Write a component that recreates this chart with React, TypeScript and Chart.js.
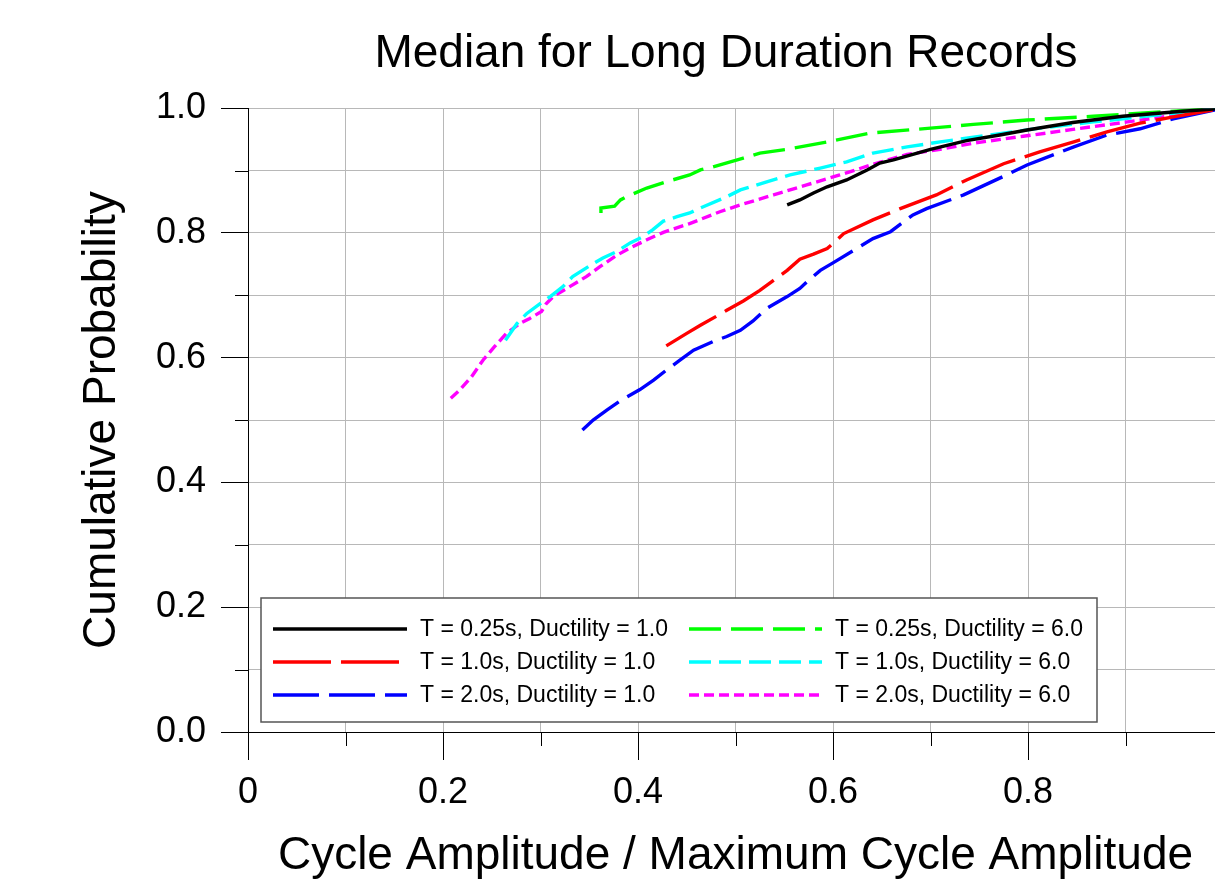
import { useEffect, useRef } from "react";
import { Chart, registerables } from "chart.js";

Chart.register(...registerables);

const FONT = '"Liberation Sans", Arial, Helvetica, sans-serif';

const chartTitle = "Median for Long Duration Records";
const xTitle = "Cycle Amplitude / Maximum Cycle Amplitude";
const yTitle = "Cumulative Probability";

const seriesLabels = [
  "T = 0.25s, Ductility = 1.0",
  "T = 1.0s, Ductility = 1.0",
  "T = 2.0s, Ductility = 1.0",
  "T = 0.25s, Ductility = 6.0",
  "T = 1.0s, Ductility = 6.0",
  "T = 2.0s, Ductility = 6.0",
];

const blackX = [0.553, 0.566, 0.58, 0.594, 0.614, 0.635, 0.648, 0.662, 0.7, 0.737, 0.771, 0.799, 0.846, 0.897, 0.949, 1.0];
const blackY = [0.845, 0.853, 0.864, 0.874, 0.885, 0.901, 0.912, 0.917, 0.934, 0.948, 0.957, 0.965, 0.977, 0.987, 0.994, 1.0];

const redX = [0.429, 0.45, 0.464, 0.481, 0.491, 0.508, 0.525, 0.539, 0.553, 0.566, 0.58, 0.594, 0.6, 0.611, 0.641, 0.669, 0.706, 0.737, 0.775, 0.812, 0.847, 0.881, 0.915, 0.949, 1.0];
const redY = [0.619, 0.639, 0.652, 0.667, 0.676, 0.691, 0.708, 0.724, 0.74, 0.758, 0.766, 0.775, 0.783, 0.799, 0.821, 0.839, 0.861, 0.885, 0.911, 0.93, 0.946, 0.962, 0.976, 0.986, 1.0];

const blueX = [0.343, 0.354, 0.368, 0.382, 0.402, 0.416, 0.429, 0.443, 0.457, 0.477, 0.491, 0.505, 0.518, 0.532, 0.553, 0.566, 0.575, 0.587, 0.6, 0.621, 0.641, 0.659, 0.682, 0.696, 0.734, 0.778, 0.799, 0.847, 0.881, 0.915, 0.949, 1.0];
const blueY = [0.484, 0.5, 0.516, 0.531, 0.549, 0.564, 0.58, 0.596, 0.612, 0.626, 0.634, 0.644, 0.659, 0.679, 0.698, 0.711, 0.724, 0.74, 0.752, 0.772, 0.791, 0.802, 0.829, 0.839, 0.861, 0.893, 0.909, 0.938, 0.957, 0.967, 0.983, 1.0];

const greenX = [0.362, 0.362, 0.376, 0.382, 0.388, 0.409, 0.429, 0.453, 0.464, 0.477, 0.508, 0.525, 0.553, 0.594, 0.638, 0.7, 0.744, 0.799, 0.867, 0.915, 1.0];
const greenY = [0.832, 0.84, 0.843, 0.853, 0.858, 0.872, 0.882, 0.893, 0.901, 0.906, 0.92, 0.928, 0.934, 0.946, 0.96, 0.968, 0.974, 0.981, 0.987, 0.992, 1.0];

const cyanX = [0.264, 0.276, 0.286, 0.3, 0.31, 0.323, 0.333, 0.351, 0.364, 0.378, 0.392, 0.405, 0.415, 0.426, 0.44, 0.453, 0.464, 0.491, 0.505, 0.532, 0.556, 0.587, 0.614, 0.641, 0.676, 0.71, 0.761, 0.812, 0.867, 0.915, 0.949, 1.0];
const cyanY = [0.628, 0.655, 0.671, 0.687, 0.698, 0.714, 0.73, 0.748, 0.76, 0.77, 0.784, 0.794, 0.805, 0.819, 0.826, 0.832, 0.84, 0.858, 0.869, 0.882, 0.893, 0.904, 0.914, 0.928, 0.938, 0.946, 0.957, 0.968, 0.978, 0.986, 0.992, 1.0];

const magentaX = [0.208, 0.217, 0.229, 0.241, 0.253, 0.265, 0.279, 0.289, 0.301, 0.306, 0.313, 0.33, 0.347, 0.361, 0.378, 0.392, 0.409, 0.426, 0.453, 0.484, 0.505, 0.539, 0.573, 0.607, 0.641, 0.676, 0.71, 0.744, 0.795, 0.846, 0.902, 0.943, 1.0];
const magentaY = [0.535, 0.548, 0.569, 0.596, 0.618, 0.639, 0.655, 0.663, 0.674, 0.687, 0.698, 0.714, 0.73, 0.746, 0.764, 0.776, 0.789, 0.801, 0.815, 0.834, 0.845, 0.861, 0.877, 0.893, 0.91, 0.926, 0.934, 0.944, 0.955, 0.966, 0.978, 0.987, 1.0];

const seriesXs = [blackX, redX, blueX, greenX, cyanX, magentaX];
const seriesYs = [blackY, redY, blueY, greenY, cyanY, magentaY];
const seriesColors = ["#000000", "#ff0000", "#0000ff", "#00ff00", "#00ffff", "#ff00ff"];
const seriesDashes: number[][] = [[], [58, 10], [46, 10], [32, 10], [22, 8], [10, 5]];

const isMajor = (v: number) => Math.abs(Math.round(v * 10)) % 2 === 0;

const minorTicksPlugin = {
  id: "minorTicks",
  afterDraw(chart: any) {
    const ctx = chart.ctx;
    const xs = chart.scales.x;
    const ys = chart.scales.y;
    const area = chart.chartArea;
    ctx.save();
    ctx.strokeStyle = "#000";
    ctx.lineWidth = 1;
    ctx.beginPath();
    xs.ticks.forEach((t: any) => {
      if (!isMajor(t.value)) {
        const px = Math.round(xs.getPixelForValue(t.value)) + 0.5;
        ctx.moveTo(px, area.bottom);
        ctx.lineTo(px, area.bottom + 14);
      }
    });
    ys.ticks.forEach((t: any) => {
      if (!isMajor(t.value)) {
        const py = Math.round(ys.getPixelForValue(t.value)) + 0.5;
        ctx.moveTo(area.left - 13, py);
        ctx.lineTo(area.left, py);
      }
    });
    ctx.stroke();
    ctx.restore();
  },
};

const boxLegendPlugin = {
  id: "boxLegend",
  afterDatasetsDraw(chart: any) {
    const ctx = chart.ctx;
    const ds = chart.data.datasets;
    const boxX = 261, boxY = 598, boxW = 836, boxH = 124;
    ctx.save();
    ctx.fillStyle = "#ffffff";
    ctx.fillRect(boxX, boxY, boxW, boxH);
    ctx.strokeStyle = "#555555";
    ctx.lineWidth = 1.5;
    ctx.strokeRect(boxX, boxY, boxW, boxH);
    const cols = [
      { x1: 273, x2: 407, tx: 420 },
      { x1: 689, x2: 822, tx: 835 },
    ];
    const rows = [629, 662, 695];
    ctx.font = `23px ${FONT}`;
    ctx.textBaseline = "middle";
    ctx.textAlign = "left";
    ds.forEach((d: any, i: number) => {
      const c = cols[Math.floor(i / 3)];
      const y = rows[i % 3];
      ctx.beginPath();
      ctx.setLineDash(d.borderDash || []);
      ctx.strokeStyle = d.borderColor;
      ctx.lineWidth = d.borderWidth;
      ctx.moveTo(c.x1, y);
      ctx.lineTo(c.x2, y);
      ctx.stroke();
      ctx.setLineDash([]);
      ctx.fillStyle = "#000";
      ctx.fillText(d.label, c.tx, y + 1);
    });
    ctx.restore();
  },
};

export default function App() {
  const ref = useRef<HTMLCanvasElement>(null);

  useEffect(() => {
    if (!ref.current) return;
    const datasets = seriesLabels.map((label, i) => ({
      label,
      data: seriesXs[i].map((x, j) => ({ x, y: seriesYs[i][j] })),
      borderColor: seriesColors[i],
      backgroundColor: seriesColors[i],
      borderWidth: 3.4,
      borderDash: seriesDashes[i],
      pointRadius: 0,
      tension: 0,
      fill: false,
      yAxisID: "y",
    }));

    const gridColor = "#b8b8b8";

    const chart = new Chart(ref.current, {
      type: "line",
      data: { datasets },
      plugins: [minorTicksPlugin, boxLegendPlugin],
      options: {
        animation: false,
        responsive: true,
        maintainAspectRatio: false,
        devicePixelRatio: 1,
        layout: { padding: { left: 0, right: 0, top: 0, bottom: 0 } },
        plugins: {
          legend: { display: false },
          tooltip: { enabled: false },
          title: {
            display: true,
            text: chartTitle,
            color: "#000",
            font: { family: FONT, size: 46, weight: "normal" },
            padding: { top: 27, bottom: 26 },
          },
        },
        scales: {
          x: {
            type: "linear",
            min: 0,
            max: 1,
            ticks: {
              stepSize: 0.1,
              autoSkip: false,
              maxRotation: 0,
              color: "#000",
              padding: 11,
              font: { family: FONT, size: 36 },
              callback: (v: any) => {
                const n = Number(v);
                if (!isMajor(n)) return "";
                return n === 0 || n === 1 ? String(n) : n.toFixed(1);
              },
            },
            grid: {
              color: gridColor,
              lineWidth: 1,
              tickLength: 28,
              tickWidth: 1,
              tickColor: (c: any) => (c.tick && isMajor(c.tick.value) ? "#000" : "rgba(0,0,0,0)"),
            },
            border: { color: "#000", width: 1 },
            title: {
              display: true,
              text: xTitle,
              color: "#000",
              font: { family: FONT, size: 46 },
              padding: { top: 0, bottom: -5 },
            },
            afterFit: (s: any) => {
              s.height = 147;
            },
          },
          y: {
            type: "linear",
            position: "left",
            min: 0,
            max: 1,
            ticks: {
              stepSize: 0.1,
              autoSkip: false,
              color: "#000",
              padding: 15,
              font: { family: FONT, size: 36 },
              callback: (v: any) => {
                const n = Number(v);
                return isMajor(n) ? n.toFixed(1) : "";
              },
            },
            grid: {
              color: gridColor,
              lineWidth: 1,
              tickLength: 27,
              tickWidth: 1,
              tickColor: (c: any) => (c.tick && isMajor(c.tick.value) ? "#000" : "rgba(0,0,0,0)"),
            },
            border: { color: "#000", width: 1 },
            title: {
              display: true,
              text: yTitle,
              color: "#000",
              font: { family: FONT, size: 46 },
              padding: { top: 75, bottom: 0 },
            },
            afterFit: (s: any) => {
              s.width = 248;
            },
          },
          yRight: {
            type: "linear",
            position: "right",
            min: 0,
            max: 1,
            ticks: { display: false },
            grid: { display: false, drawTicks: false },
            border: { display: false },
            title: { display: false },
            afterFit: (s: any) => {
              s.width = 229;
            },
          },
        },
      },
    } as any);

    return () => chart.destroy();
  }, []);

  return (
    <div
      style={{
        position: "fixed",
        left: 0,
        top: 0,
        width: 1215,
        height: 879,
        overflow: "hidden",
        background: "#ffffff",
      }}
    >
      <div style={{ position: "relative", width: 1452, height: 879 }}>
        <canvas ref={ref} />
      </div>
    </div>
  );
}
